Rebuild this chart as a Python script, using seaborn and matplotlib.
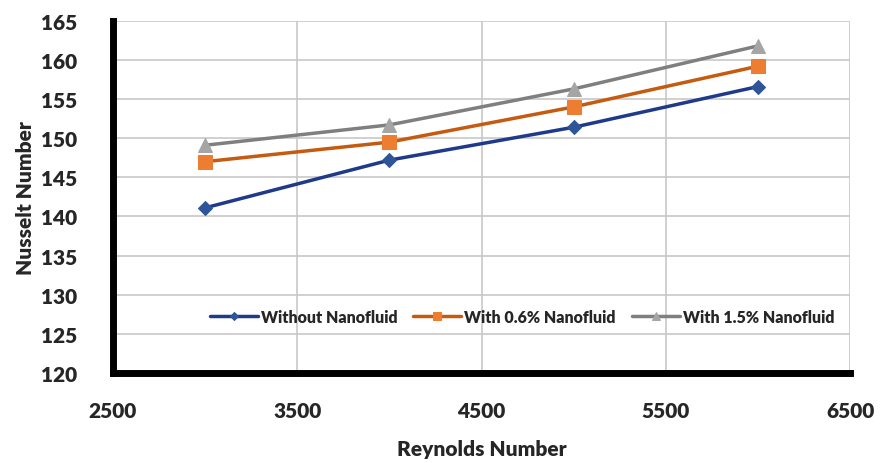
import pandas as pd
import seaborn as sns
import matplotlib.pyplot as plt

## Data
reynolds = [3000, 4000, 5000, 6000]
nu_without = [141.1, 147.2, 151.4, 156.6]
nu_06 = [147.0, 149.5, 154.0, 159.2]
nu_15 = [149.1, 151.7, 156.3, 161.8]
labels = ['Without Nanofluid', 'With 0.6% Nanofluid', 'With 1.5% Nanofluid']

series = [nu_without, nu_06, nu_15]
line_colors = ['#1F3A8A', '#C55A11', '#7F7F7F']
marker_colors = ['#2F5597', '#ED7D31', '#A5A5A5']
markers = ['D', 's', '^']
marker_sizes = [7, 10, 10]

sns.set_style("white")
plt.rcParams['font.family'] = ['Lato', 'DejaVu Sans']
plt.rcParams['font.weight'] = 'bold'

fig = plt.figure(figsize=(8.82, 4.64), dpi=100)
ax = fig.add_axes([0.128, 0.194, 0.836, 0.759])

for vals, lab, lc, mc, m, ms in zip(series, labels, line_colors, marker_colors, markers, marker_sizes):
    df = pd.DataFrame({'Re': reynolds, 'Nu': vals})
    sns.lineplot(data=df, x='Re', y='Nu', ax=ax, color=lc, linewidth=2.5,
                 marker=m, markersize=ms, markerfacecolor=mc,
                 markeredgecolor=mc, label=lab)

ax.set_xlim(2500, 6500)
ax.set_ylim(120, 165)
ax.set_xticks([2500, 3500, 4500, 5500, 6500])
ax.set_yticks(range(120, 166, 5))
ax.grid(True, color='#C8C8C8', linewidth=1.2)
ax.set_axisbelow(True)

for side in ['top', 'right']:
    ax.spines[side].set_visible(False)
for side in ['left', 'bottom']:
    ax.spines[side].set_linewidth(5)
    ax.spines[side].set_color('black')

ax.tick_params(axis='both', length=0, labelsize=15)
ax.tick_params(axis='x', pad=20)
ax.tick_params(axis='y', pad=26)
for t in ax.get_xticklabels() + ax.get_yticklabels():
    t.set_fontweight('heavy')

ax.set_xlabel('Reynolds Number', fontsize=15, fontweight='heavy', labelpad=14)
ax.set_ylabel('Nusselt Number', fontsize=15, fontweight='heavy', labelpad=4)

ax.legend(loc='center', bbox_to_anchor=(0.555, 0.159), ncol=3, frameon=False,
          handlelength=3.0, handletextpad=0.2, columnspacing=1.0, markerscale=0.55,
          prop={'weight': 'heavy', 'size': 11.5})

fig.savefig('out.png', dpi=100)
